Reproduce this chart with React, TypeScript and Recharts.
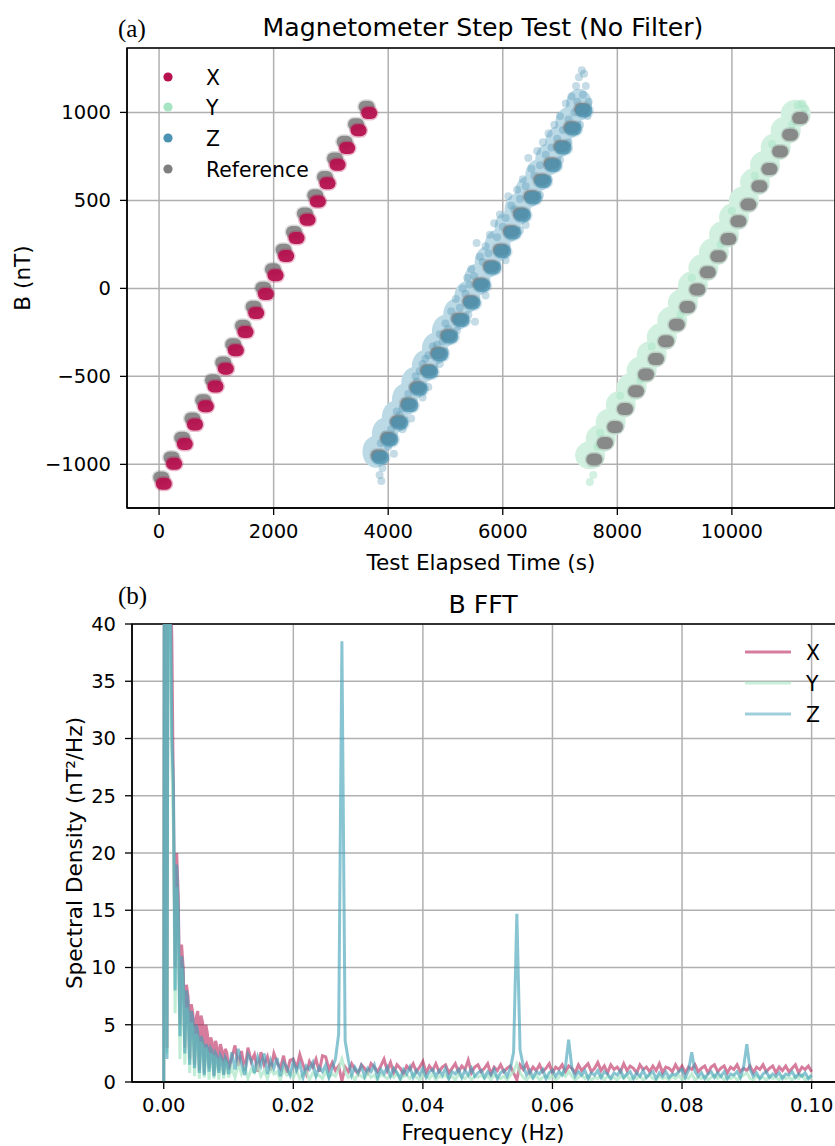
import {
  CartesianGrid,
  Line,
  LineChart,
  ReferenceArea,
  Scatter,
  ScatterChart,
  XAxis,
  YAxis,
} from "recharts";

// ---- step test: cluster centres, elapsed time (s) vs field (nT) ----
const xSteps = [
  { t: 82, b: -1110 }, { t: 262, b: -996 }, { t: 449, b: -884 }, { t: 627, b: -774 },
  { t: 816, b: -670 }, { t: 985, b: -557 }, { t: 1165, b: -456 }, { t: 1340, b: -352 },
  { t: 1509, b: -248 }, { t: 1695, b: -140 }, { t: 1864, b: -32 }, { t: 2033, b: 74 },
  { t: 2218, b: 184 }, { t: 2400, b: 286 }, { t: 2592, b: 390 }, { t: 2772, b: 494 },
  { t: 2941, b: 598 }, { t: 3116, b: 703 }, { t: 3284, b: 798 }, { t: 3483, b: 898 },
  { t: 3668, b: 997 },
];

const ySteps = [
  { t: 7560, b: -960 }, { t: 7745, b: -865 }, { t: 7920, b: -772 }, { t: 8095, b: -672 },
  { t: 8285, b: -572 }, { t: 8460, b: -477 }, { t: 8635, b: -388 }, { t: 8810, b: -288 },
  { t: 8995, b: -193 }, { t: 9180, b: -93 }, { t: 9355, b: 6 }, { t: 9537, b: 104 },
  { t: 9722, b: 195 }, { t: 9897, b: 294 }, { t: 10072, b: 394 }, { t: 10246, b: 489 },
  { t: 10438, b: 593 }, { t: 10613, b: 691 }, { t: 10800, b: 791 }, { t: 10975, b: 886 },
  { t: 11150, b: 981 },
];

const yScatter = [
  { t: 7520, b: -1100 }, { t: 7580, b: -1060 }, { t: 11230, b: 1050 },
  { t: 11270, b: 1020 }, { t: 11150, b: 1040 }, { t: 7700, b: -820 },
  { t: 8050, b: -610 }, { t: 8600, b: -330 }, { t: 9300, b: 60 }, { t: 10000, b: 440 },
  { t: 10700, b: 820 }, { t: 7650, b: -900 }, { t: 8400, b: -520 }, { t: 9100, b: -150 },
  { t: 9800, b: 250 }, { t: 10400, b: 640 }, { t: 11050, b: 930 },
];

const zSteps = [
  { t: 3865, b: -962 }, { t: 4030, b: -860 }, { t: 4204, b: -765 }, { t: 4379, b: -666 },
  { t: 4542, b: -572 }, { t: 4728, b: -475 }, { t: 4903, b: -377 }, { t: 5078, b: -276 },
  { t: 5275, b: -182 }, { t: 5467, b: -83 }, { t: 5642, b: 17 }, { t: 5824, b: 116 },
  { t: 5998, b: 210 }, { t: 6173, b: 315 }, { t: 6347, b: 415 }, { t: 6533, b: 514 },
  { t: 6707, b: 608 }, { t: 6882, b: 699 }, { t: 7057, b: 798 }, { t: 7232, b: 906 },
  { t: 7418, b: 1010 },
];

// scattered Z samples around the steps
const zScatter = [
  { t: 3850, b: -1060 }, { t: 3880, b: -1095 }, { t: 3900, b: -1020 }, { t: 3870, b: -880 },
  { t: 3950, b: -830 }, { t: 4080, b: -760 }, { t: 4150, b: -700 }, { t: 4300, b: -640 },
  { t: 4420, b: -560 }, { t: 4480, b: -500 }, { t: 4600, b: -430 }, { t: 4700, b: -380 },
  { t: 4780, b: -330 }, { t: 4900, b: -260 }, { t: 5000, b: -200 }, { t: 5100, b: -130 },
  { t: 5180, b: -60 }, { t: 5300, b: 0 }, { t: 5380, b: 60 }, { t: 5450, b: 110 },
  { t: 5544, b: 258 }, { t: 5600, b: 180 }, { t: 5700, b: 240 }, { t: 5776, b: 305 },
  { t: 5850, b: 370 }, { t: 5950, b: 420 }, { t: 6096, b: 523 }, { t: 6150, b: 470 },
  { t: 6250, b: 560 }, { t: 6350, b: 620 }, { t: 6446, b: 741 }, { t: 6500, b: 680 },
  { t: 6600, b: 780 }, { t: 6700, b: 830 }, { t: 6800, b: 880 }, { t: 6900, b: 930 },
  { t: 7000, b: 980 }, { t: 7100, b: 1050 }, { t: 7200, b: 1090 }, { t: 7280, b: 1150 },
  { t: 7330, b: 1200 }, { t: 7380, b: 1240 }, { t: 7420, b: 1220 }, { t: 4100, b: -940 },
  { t: 4400, b: -740 }, { t: 4700, b: -560 }, { t: 5000, b: -360 }, { t: 5515, b: -190 },
  { t: 5900, b: 130 }, { t: 6300, b: 330 }, { t: 6650, b: 530 }, { t: 7000, b: 730 },
  { t: 7350, b: 930 }, { t: 7480, b: 980 },
  { t: 4000, b: -900 }, { t: 4050, b: -800 }, { t: 4200, b: -720 }, { t: 4250, b: -680 },
  { t: 4350, b: -600 }, { t: 4500, b: -530 }, { t: 4550, b: -470 }, { t: 4650, b: -400 },
  { t: 4850, b: -320 }, { t: 4950, b: -300 }, { t: 5050, b: -230 }, { t: 5150, b: -170 },
  { t: 5250, b: -110 }, { t: 5350, b: -30 }, { t: 5420, b: 20 }, { t: 5500, b: 70 },
  { t: 5650, b: 150 }, { t: 5750, b: 200 }, { t: 5900, b: 290 }, { t: 6000, b: 350 },
  { t: 6050, b: 400 }, { t: 6200, b: 450 }, { t: 6300, b: 510 }, { t: 6400, b: 580 },
  { t: 6550, b: 640 }, { t: 6650, b: 700 }, { t: 6750, b: 760 }, { t: 6850, b: 800 },
  { t: 6950, b: 850 }, { t: 7050, b: 900 }, { t: 7150, b: 960 }, { t: 7250, b: 1000 },
  { t: 7300, b: 1060 }, { t: 7400, b: 1100 }, { t: 7450, b: 1150 },
  { t: 4250, b: -800 }, { t: 4600, b: -620 }, { t: 4900, b: -430 }, { t: 5200, b: -240 },
  { t: 5400, b: -150 }, { t: 5700, b: -40 }, { t: 6050, b: 160 }, { t: 6400, b: 360 },
  { t: 6800, b: 620 }, { t: 7150, b: 830 }, { t: 7500, b: 1060 },
];

const referenceSteps = [
  // X run
  { t: 37, b: -1075 }, { t: 217, b: -961 }, { t: 404, b: -849 }, { t: 582, b: -739 },
  { t: 771, b: -635 }, { t: 940, b: -522 }, { t: 1120, b: -421 }, { t: 1295, b: -317 },
  { t: 1464, b: -213 }, { t: 1650, b: -105 }, { t: 1819, b: 3 }, { t: 1988, b: 109 },
  { t: 2173, b: 219 }, { t: 2355, b: 321 }, { t: 2547, b: 425 }, { t: 2727, b: 529 },
  { t: 2896, b: 633 }, { t: 3071, b: 738 }, { t: 3239, b: 833 }, { t: 3438, b: 933 },
  { t: 3623, b: 1032 },
  // Z run
  { t: 3835, b: -950 }, { t: 4000, b: -850 }, { t: 4175, b: -755 }, { t: 4350, b: -655 },
  { t: 4512, b: -562 }, { t: 4700, b: -465 }, { t: 4875, b: -367 }, { t: 5050, b: -266 },
  { t: 5245, b: -172 }, { t: 5437, b: -73 }, { t: 5612, b: 27 }, { t: 5795, b: 126 },
  { t: 5968, b: 220 }, { t: 6143, b: 325 }, { t: 6317, b: 425 }, { t: 6503, b: 524 },
  { t: 6677, b: 618 }, { t: 6852, b: 709 }, { t: 7027, b: 808 }, { t: 7202, b: 916 },
  { t: 7388, b: 1020 },
  // Y run
  { t: 7598, b: -973 }, { t: 7785, b: -878 }, { t: 7960, b: -788 }, { t: 8135, b: -685 },
  { t: 8327, b: -585 }, { t: 8501, b: -490 }, { t: 8676, b: -401 }, { t: 8851, b: -301 },
  { t: 9037, b: -206 }, { t: 9223, b: -106 }, { t: 9397, b: -7 }, { t: 9579, b: 91 },
  { t: 9764, b: 182 }, { t: 9939, b: 281 }, { t: 10114, b: 381 }, { t: 10288, b: 476 },
  { t: 10480, b: 580 }, { t: 10655, b: 678 }, { t: 10842, b: 778 }, { t: 11017, b: 873 },
  { t: 11191, b: 968 },
];

const timeTicks = [0, 2000, 4000, 6000, 8000, 10000];
const fieldTicks = [-1000, -500, 0, 500, 1000];

// ---- spectral density ----
const freqHz = [
  0, 0.00025, 0.0005, 0.00075, 0.001, 0.00125, 0.0015, 0.00175, 0.002, 0.00225,
  0.0025, 0.00275, 0.003, 0.00325, 0.0035, 0.00375, 0.004, 0.00425, 0.0045, 0.00475,
  0.005, 0.00525, 0.0055, 0.00575, 0.006, 0.00625, 0.0065, 0.00675, 0.007, 0.00725,
  0.0075, 0.00775, 0.008, 0.00825, 0.0085, 0.00875, 0.009, 0.00925, 0.0095, 0.00975,
  0.01,
  0.0105, 0.011, 0.0115, 0.012, 0.0125, 0.013, 0.0135, 0.014, 0.0145, 0.015,
  0.0155, 0.016, 0.0165, 0.017, 0.0175, 0.018, 0.0185, 0.019, 0.0195, 0.02,
  0.0205, 0.021, 0.0215, 0.022, 0.0225, 0.023, 0.0235, 0.024, 0.0245, 0.025,
  0.0255, 0.026, 0.0265, 0.027, 0.0275, 0.028, 0.0285, 0.029, 0.0295, 0.03,
  0.0305, 0.031, 0.0315, 0.032, 0.0325, 0.033, 0.0335, 0.034, 0.0345, 0.035,
  0.0355, 0.036, 0.0365, 0.037, 0.0375, 0.038, 0.0385, 0.039, 0.0395, 0.04,
  0.0405, 0.041, 0.0415, 0.042, 0.0425, 0.043, 0.0435, 0.044, 0.0445, 0.045,
  0.0455, 0.046, 0.0465, 0.047, 0.0475, 0.048, 0.0485, 0.049, 0.0495, 0.05,
  0.0505, 0.051, 0.0515, 0.052, 0.0525, 0.053, 0.0535, 0.054, 0.0545, 0.055,
  0.0555, 0.056, 0.0565, 0.057, 0.0575, 0.058, 0.0585, 0.059, 0.0595, 0.06,
  0.0605, 0.061, 0.0615, 0.062, 0.0625, 0.063, 0.0635, 0.064, 0.0645, 0.065,
  0.0655, 0.066, 0.0665, 0.067, 0.0675, 0.068, 0.0685, 0.069, 0.0695, 0.07,
  0.0705, 0.071, 0.0715, 0.072, 0.0725, 0.073, 0.0735, 0.074, 0.0745, 0.075,
  0.0755, 0.076, 0.0765, 0.077, 0.0775, 0.078, 0.0785, 0.079, 0.0795, 0.08,
  0.0805, 0.081, 0.0815, 0.082, 0.0825, 0.083, 0.0835, 0.084, 0.0845, 0.085,
  0.0855, 0.086, 0.0865, 0.087, 0.0875, 0.088, 0.0885, 0.089, 0.0895, 0.09,
  0.0905, 0.091, 0.0915, 0.092, 0.0925, 0.093, 0.0935, 0.094, 0.0945, 0.095,
  0.0955, 0.096, 0.0965, 0.097, 0.0975, 0.098, 0.0985, 0.099, 0.0995, 0.1,
];

const psdX = [
  0, 140, 3, 75, 45, 38.7, 24, 10, 20, 16,
  5, 12, 10, 3, 8.5, 7.5, 2, 6.8, 6, 1.5,
  5.6, 6.2, 1.0, 5.8, 5.2, 0.8, 5.0, 4.2, 1.2, 3.9,
  3.4, 0.6, 3.6, 3.0, 1.0, 3.3, 2.7, 0.7, 2.9, 2.5,
  1.1,
  2.1, 3.2, 1.4, 2.7, 1.0, 3.0, 1.8, 2.4, 0.9, 2.6,
  1.5, 2.2, 1.0, 2.5, 1.7, 1.2, 2.3, 0.8, 1.9, 2.0,
  1.2, 2.4, 1.5, 0.7, 1.8, 1.3, 2.0, 0.9, 2.3, 2.2,
  1.1, 1.7, 1.0, 1.4, 0.1, 1.3, 0.9, 1.6, 1.1, 0.7,
  1.5, 1.2, 0.8, 1.6, 1.3, 0.9, 1.4, 2.0, 1.0, 1.7,
  0.8, 1.5, 1.2, 0.7, 1.4, 1.1, 1.6, 0.9, 1.3, 1.8,
  0.8, 1.4, 1.0, 1.6, 0.9, 1.3, 1.5, 0.8, 1.2, 1.6,
  0.9, 1.4, 1.1, 1.9, 0.8, 1.3, 1.5, 0.9, 1.2, 1.6,
  0.7, 1.3, 1.0, 1.5, 0.9, 1.2, 1.4, 0.8, 0.2, 1.5,
  1.1, 1.6, 0.8, 1.3, 1.0, 1.5, 0.9, 1.2, 1.6, 0.8,
  1.3, 1.1, 1.5, 0.9, 1.4, 1.2, 0.8, 1.5, 1.0, 1.3,
  1.6, 0.9, 1.2, 1.7, 1.0, 1.4, 0.8, 1.5, 1.1, 1.3,
  0.9, 1.6, 1.0, 1.4, 1.2, 0.8, 1.5, 1.1, 1.3, 0.9,
  1.4, 1.0, 1.6, 0.8, 1.3, 1.2, 0.9, 1.5, 1.0, 1.4,
  0.8, 1.3, 1.1, 1.5, 0.9, 1.2, 1.4, 0.8, 1.3, 1.5,
  0.9, 1.2, 1.4, 0.8, 1.3, 1.1, 1.5, 0.9, 1.2, 1.0,
  1.4, 0.8, 1.3, 1.1, 1.5, 0.9, 1.2, 1.4, 0.8, 1.3,
  1.0, 1.4, 0.9, 1.2, 1.5, 0.8, 1.3, 1.1, 1.4, 0.9,
];

const psdY = [
  0, 130, 2.5, 65, 40, 28, 22, 6, 17, 13,
  2, 10, 8, 1.5, 6.5, 6, 0.8, 5.2, 4.6, 0.5,
  4.2, 3.8, 0.3, 3.5, 3.1, 0.4, 3.0, 2.6, 0.2, 2.5,
  2.2, 0.3, 2.1, 1.9, 0.2, 1.9, 1.6, 0.3, 1.7, 1.5,
  0.4,
  1.2, 0.4, 1.6, 0.7, 1.3, 0.3, 1.1, 0.8, 1.4, 0.5,
  1.0, 0.3, 1.2, 0.7, 0.9, 0.2, 1.1, 0.6, 0.8, 0.4,
  1.0, 0.3, 0.7, 0.9, 0.2, 0.8, 0.5, 0.6, 0.3, 0.9,
  0.4, 0.7, 0.5, 1.2, 2.0, 0.9, 0.4, 0.6, 0.2, 0.7,
  0.5, 0.3, 0.8, 0.4, 0.6, 0.2, 0.7, 0.5, 0.3, 0.6,
  0.4, 0.8, 0.2, 0.5, 0.6, 0.3, 0.7, 0.4, 0.2, 0.6,
  0.5, 0.3, 0.7, 0.2, 0.5, 0.4, 0.6, 0.3, 0.5, 0.2,
  0.7, 0.4, 0.3, 0.6, 0.2, 0.5, 0.4, 0.6, 0.3, 0.5,
  0.2, 0.6, 0.4, 0.3, 0.5, 0.2, 0.6, 0.9, 1.6, 0.8,
  0.4, 0.2, 0.5, 0.3, 0.6, 0.2, 0.4, 0.5, 0.3, 0.6,
  0.2, 0.4, 0.8, 0.5, 0.9, 0.5, 0.2, 0.4, 0.6, 0.3,
  0.5, 0.2, 0.4, 0.3, 0.6, 0.2, 0.5, 0.3, 0.4, 0.2,
  0.5, 0.3, 0.6, 0.2, 0.4, 0.3, 0.5, 0.2, 0.4, 0.6,
  0.3, 0.2, 0.5, 0.3, 0.4, 0.2, 0.5, 0.3, 0.6, 0.2,
  0.4, 0.3, 0.7, 0.2, 0.4, 0.3, 0.5, 0.2, 0.4, 0.6,
  0.3, 0.5, 0.2, 0.4, 0.3, 0.5, 0.2, 0.4, 0.6, 0.8,
  0.3, 0.2, 0.5, 0.3, 0.4, 0.2, 0.5, 0.3, 0.4, 0.2,
  0.5, 0.3, 0.4, 0.2, 0.5, 0.3, 0.6, 0.2, 0.4, 0.3,
];

const psdZ = [
  0, 150, 2, 70, 44, 30, 26, 8, 19, 15,
  4, 11, 9.5, 2.5, 8, 7, 1.5, 6.2, 5.5, 1.2,
  5, 4.3, 0.8, 4, 3.6, 0.6, 3.3, 3.0, 0.9, 2.9,
  2.6, 0.5, 2.5, 2.2, 0.8, 2.3, 2.0, 0.6, 2.1, 1.8,
  0.7,
  2.6, 1.1, 2.9, 1.6, 0.6, 2.4, 1.9, 0.8, 2.2, 1.4,
  2.5, 0.7, 1.9, 1.2, 2.1, 0.5, 1.7, 1.3, 0.6, 1.8,
  1.0, 1.6, 0.4, 1.4, 1.1, 1.7, 0.5, 1.3, 0.9, 1.5,
  0.4, 1.2, 2.0, 4.2, 38.5, 3.6, 1.9, 0.6, 1.3, 0.8,
  1.4, 0.5, 1.2, 0.9, 1.5, 0.4, 1.1, 0.7, 1.3, 0.5,
  1.2, 0.8, 0.3, 1.1, 0.7, 1.3, 0.4, 1.0, 0.6, 1.2,
  0.4, 0.9, 1.1, 0.5, 1.0, 0.6, 1.2, 0.3, 0.9, 0.7,
  1.1, 0.4, 1.0, 0.6, 1.2, 0.5, 0.8, 1.0, 0.4, 0.9,
  0.6, 1.1, 0.3, 0.8, 1.0, 0.5, 1.2, 2.6, 14.7, 2.8,
  1.4, 0.6, 1.0, 0.4, 0.9, 0.7, 1.1, 0.3, 0.8, 1.0,
  0.5, 0.9, 0.6, 1.3, 3.7, 1.2, 0.5, 0.9, 0.6, 1.0,
  0.3, 0.8, 0.6, 1.0, 0.4, 0.9, 0.7, 0.3, 0.8, 0.6,
  1.0, 0.4, 0.7, 0.9, 0.3, 0.8, 0.5, 1.0, 0.4, 0.7,
  0.9, 0.3, 0.8, 0.5, 0.9, 0.4, 0.7, 0.6, 0.9, 1.1,
  0.4, 1.0, 2.6, 0.9, 0.5, 0.8, 0.3, 0.7, 0.9, 0.4,
  0.8, 0.5, 0.9, 0.3, 0.7, 0.6, 0.9, 0.4, 1.3, 3.3,
  1.1, 0.5, 0.8, 0.3, 0.7, 0.9, 0.4, 0.7, 0.5, 0.8,
  0.3, 0.7, 0.6, 0.9, 0.4, 0.7, 0.5, 0.8, 0.3, 0.6,
];

const freqTicks = [0, 0.02, 0.04, 0.06, 0.08, 0.1];
const densityTicks = [0, 5, 10, 15, 20, 25, 30, 35, 40];

const spectrum = freqHz.map((f, i) => ({ f, x: psdX[i], y: psdY[i], z: psdZ[i] }));

const FONT = "DejaVu Sans";
const SERIF = "Liberation Serif";
const X_COLOR = "#B5124F";
const Y_COLOR = "#A6E4C3";
const Z_COLOR = "#4A93B2";
const Z_LINE = "#3F9FB6";
const REF_COLOR = "#7F7F7F";
const GRID = "#b0b0b0";
// flat tints for the sample clouds, so overlapping steps blend into one band
const Y_CLOUD = "#D2F0E0";
const Z_CLOUD = "#BCD9E6";

const T_DOMAIN: [number, number] = [-560, 11800];
const B_DOMAIN: [number, number] = [-1248, 1366];
const F_DOMAIN: [number, number] = [-0.0049, 0.105];
const D_DOMAIN: [number, number] = [0, 40];

const tickStyle = { fill: "#000", fontSize: 19.5, fontFamily: FONT };
const axisStroke = { stroke: "#000", strokeWidth: 1.3 };

const minusFmt = (v: number) => (v < 0 ? "\u2212" + Math.abs(v) : String(v));

// a step cluster: samples at one level spread over the step's duration
const capsule = (color: string, opacity: number, width = 12) => (props: any) => {
  const { cx, cy } = props;
  if (cx == null || cy == null) return <g />;
  return (
    <g>
      <line x1={cx - 2} y1={cy} x2={cx + 2} y2={cy} stroke={color} strokeOpacity={opacity * 0.3}
        strokeWidth={width + 3} strokeLinecap="round" />
      <line x1={cx - 2} y1={cy} x2={cx + 2} y2={cy} stroke={color} strokeOpacity={opacity}
        strokeWidth={width} strokeLinecap="round" />
    </g>
  );
};

const cloud =
  (color: string, rx: number, ry: number, dx: number, dy: number) =>
  (props: any) => {
    const { cx, cy } = props;
    if (cx == null || cy == null) return <g />;
    return <ellipse cx={cx + dx} cy={cy + dy} rx={rx} ry={ry} fill={color} />;
  };

const dotShape = (color: string, opacity: number) => (props: any) => {
  const { cx, cy } = props;
  if (cx == null || cy == null) return <g />;
  return <circle cx={cx} cy={cy} r={4} fill={color} fillOpacity={opacity} />;
};

function StepTest() {
  return (
    <ScatterChart width={845} height={580} margin={{ top: 48, right: 10, bottom: 42, left: 67 }}>
      <CartesianGrid stroke={GRID} strokeWidth={1.5} />
      <XAxis
        type="number"
        dataKey="t"
        domain={T_DOMAIN}
        ticks={timeTicks}
        allowDataOverflow
        tick={tickStyle}
        tickSize={7}
        tickMargin={9}
        axisLine={axisStroke}
        tickLine={axisStroke}
      />
      <YAxis
        type="number"
        dataKey="b"
        domain={B_DOMAIN}
        ticks={fieldTicks}
        allowDataOverflow
        width={60}
        tickFormatter={minusFmt}
        tick={tickStyle}
        tickSize={7}
        tickMargin={9}
        axisLine={axisStroke}
        tickLine={axisStroke}
      />
      <Scatter data={zSteps} shape={cloud(Z_CLOUD, 13, 16, -5, -6)} isAnimationActive={false} />
      <Scatter data={ySteps} shape={cloud(Y_CLOUD, 15, 14, -2, -2)} isAnimationActive={false} />
      <Scatter data={zScatter} shape={dotShape(Z_COLOR, 0.32)} isAnimationActive={false} />
      <Scatter data={yScatter} shape={dotShape(Y_COLOR, 0.5)} isAnimationActive={false} />
      <Scatter data={referenceSteps} shape={capsule(REF_COLOR, 0.88)} isAnimationActive={false} />
      <Scatter data={xSteps} shape={capsule(X_COLOR, 0.95)} isAnimationActive={false} />
      <Scatter data={zSteps} shape={capsule(Z_COLOR, 0.75, 13)} isAnimationActive={false} />
      <ReferenceArea
        x1={T_DOMAIN[0]}
        x2={T_DOMAIN[1]}
        y1={B_DOMAIN[0]}
        y2={B_DOMAIN[1]}
        fill="none"
        stroke="#000"
        strokeWidth={1.4}
        ifOverflow="visible"
      />
    </ScatterChart>
  );
}

function Spectrum() {
  return (
    <LineChart width={854} height={566} data={spectrum} margin={{ top: 44, right: 10, bottom: 34, left: 72 }}>
      <CartesianGrid stroke={GRID} strokeWidth={1.5} />
      <XAxis
        type="number"
        dataKey="f"
        domain={F_DOMAIN}
        ticks={freqTicks}
        allowDataOverflow
        tickFormatter={(v: number) => v.toFixed(2)}
        tick={tickStyle}
        tickSize={7}
        tickMargin={9}
        axisLine={axisStroke}
        tickLine={axisStroke}
      />
      <YAxis
        type="number"
        domain={D_DOMAIN}
        ticks={densityTicks}
        allowDataOverflow
        width={60}
        tick={tickStyle}
        tickSize={7}
        tickMargin={9}
        axisLine={axisStroke}
        tickLine={axisStroke}
      />
      <Line dataKey="x" type="linear" stroke={X_COLOR} strokeOpacity={0.55} strokeWidth={3} dot={false} isAnimationActive={false} />
      <Line dataKey="y" type="linear" stroke={Y_COLOR} strokeOpacity={0.7} strokeWidth={3} dot={false} isAnimationActive={false} />
      <Line dataKey="z" type="linear" stroke={Z_LINE} strokeOpacity={0.62} strokeWidth={3} dot={false} isAnimationActive={false} />
      <ReferenceArea
        x1={F_DOMAIN[0]}
        x2={F_DOMAIN[1]}
        y1={D_DOMAIN[0]}
        y2={D_DOMAIN[1]}
        fill="none"
        stroke="#000"
        strokeWidth={1.4}
        ifOverflow="visible"
      />
    </LineChart>
  );
}

const stepLegend = [
  { label: "X", color: X_COLOR, y: 77 },
  { label: "Y", color: Y_COLOR, y: 107 },
  { label: "Z", color: Z_COLOR, y: 138 },
  { label: "Reference", color: REF_COLOR, y: 169 },
];

const spectrumLegend = [
  { label: "X", color: X_COLOR, opacity: 0.55, y: 652 },
  { label: "Y", color: Y_COLOR, opacity: 0.6, y: 683 },
  { label: "Z", color: Z_LINE, opacity: 0.5, y: 714 },
];

function Annotations() {
  return (
    <svg
      width={835}
      height={1146}
      style={{ position: "absolute", left: 0, top: 0, pointerEvents: "none" }}
      fontFamily={FONT}
    >
      <text x={118} y={37} fontFamily={SERIF} fontSize={25}>(a)</text>
      <text x={483} y={36} fontSize={25.2} textAnchor="middle">Magnetometer Step Test (No Filter)</text>
      {stepLegend.map((d) => (
        <g key={d.label}>
          <circle cx={168} cy={d.y} r={4.6} fill={d.color} />
          <text x={206} y={d.y + 7.5} fontSize={20.4}>{d.label}</text>
        </g>
      ))}
      <text x={481} y={570} fontSize={21.6} textAnchor="middle">Test Elapsed Time (s)</text>
      <text transform="translate(30,278) rotate(-90)" fontSize={21.6} textAnchor="middle">B (nT)</text>

      <text x={118} y={604} fontFamily={SERIF} fontSize={25}>(b)</text>
      <text x={483} y={613} fontSize={25.2} textAnchor="middle">B FFT</text>
      {spectrumLegend.map((d) => (
        <g key={d.label}>
          <line x1={745} x2={791} y1={d.y} y2={d.y} stroke={d.color} strokeOpacity={d.opacity} strokeWidth={3} />
          <text x={806} y={d.y + 7.5} fontSize={20.4}>{d.label}</text>
        </g>
      ))}
      <text x={483} y={1140} fontSize={21.6} textAnchor="middle">Frequency (Hz)</text>
      <text transform="translate(81.5,853) rotate(-90)" fontSize={21.6} textAnchor="middle">
        Spectral Density (nT²/Hz)
      </text>
    </svg>
  );
}

export default function App() {
  return (
    <div
      style={{
        position: "absolute",
        left: 0,
        top: 0,
        width: 835,
        height: 1146,
        overflow: "hidden",
        background: "#fff",
      }}
    >
      <div style={{ position: "absolute", left: 0, top: 0 }}>
        <StepTest />
      </div>
      <div style={{ position: "absolute", left: 0, top: 580 }}>
        <Spectrum />
      </div>
      <Annotations />
    </div>
  );
}
